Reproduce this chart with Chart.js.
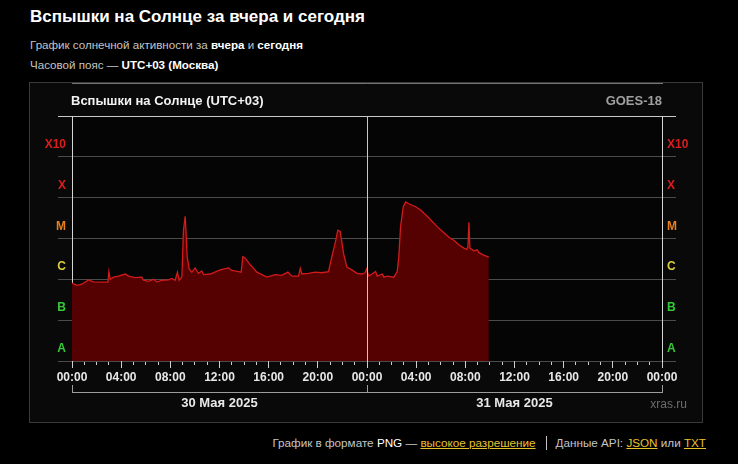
<!DOCTYPE html>
<html>
<head>
<meta charset="utf-8">
<script src="https://cdn.jsdelivr.net/npm/chart.js@4/dist/chart.umd.min.js"></script>
<style>
html,body{margin:0;padding:0;background:#000;width:738px;height:464px;overflow:hidden;font-family:"Liberation Sans",Arial,sans-serif;}
#h1{position:absolute;left:30px;top:7px;font-size:17px;font-weight:bold;color:#fff;white-space:nowrap;line-height:20px;}
.sub{position:absolute;left:30px;font-size:11.6px;color:#c4c4c4;white-space:nowrap;line-height:14px;}
.sub b{color:#fff;}
#panel{position:absolute;left:29px;top:82px;width:672px;height:339px;border:1px solid #3a3a3a;background:#090909;}
#chart{position:absolute;left:0;top:0;}
#ptitle{position:absolute;left:41px;top:10px;font-size:13px;font-weight:bold;color:#f2f2f2;line-height:15px;white-space:nowrap;}
#goes{position:absolute;right:40px;top:10px;font-size:13px;font-weight:bold;color:#a0a0a0;line-height:15px;white-space:nowrap;}
#xras{position:absolute;right:15px;top:314px;font-size:12px;color:#6c6c6c;line-height:14px;white-space:nowrap;}
#footer{position:absolute;right:32px;top:436px;font-size:11.7px;color:#c4c4c4;line-height:14px;white-space:nowrap;}
#footer a{color:#e8c12c;text-decoration:underline;}
#footer .w{color:#fff;}
#footer .sep{display:inline-block;width:1px;height:14px;background:#c4c4c4;vertical-align:-3px;margin:0 9px 0 10px;}
</style>
</head>
<body>
<div id="h1">Вспышки на Солнце за вчера и сегодня</div>
<div class="sub" style="top:38px">График солнечной активности за <b>вчера</b> и <b>сегодня</b></div>
<div class="sub" style="top:58px">Часовой пояс — <b>UTC+03 (Москва)</b></div>
<div id="panel">
  <canvas id="chart" width="672" height="339"></canvas>
  <div id="ptitle">Вспышки на Солнце (UTC+03)</div>
  <div id="goes">GOES-18</div>
  <div id="xras">xras.ru</div>
</div>
<div id="footer">График в формате <span class="w">PNG</span> — <a>высокое разрешение</a><span class="sep"></span>Данные API: <a>JSON</a> или <a>TXT</a></div>
<script>
// ---- data (hours since 30 May 2025 00:00 UTC+03, X-ray flux W/m²) ----
const hours = [0.00,0.39,0.80,1.34,1.75,2.70,2.92,3.00,3.11,3.38,3.78,4.33,4.60,5.14,5.68,5.82,6.22,6.63,6.90,7.31,7.85,8.12,8.39,8.58,8.72,8.94,9.07,9.21,9.37,9.53,9.75,10.02,10.16,10.29,10.56,10.70,11.24,12.06,12.73,13.00,13.55,13.76,13.90,14.09,14.50,15.04,15.45,15.85,16.53,17.07,17.56,17.89,18.43,18.57,18.70,19.24,19.79,20.33,20.87,21.14,21.41,21.63,21.82,22.09,22.36,22.77,23.18,23.58,23.85,23.96,24.15,24.70,24.83,25.24,25.37,25.64,26.18,26.46,26.59,26.73,26.95,27.14,27.41,27.95,28.36,28.90,29.71,30.53,30.80,31.07,31.47,31.88,32.10,32.21,32.29,32.37,32.69,32.97,33.10,33.50,33.91];
const flux = [8.1e-7,7.1e-7,7.6e-7,9.7e-7,8.7e-7,8.5e-7,8.5e-7,1.55e-6,1.0e-6,1.13e-6,1.2e-6,1.35e-6,1.2e-6,1.1e-6,1.13e-6,9.5e-7,8.9e-7,1.0e-6,8.7e-7,9.4e-7,9.7e-7,1.05e-6,9.5e-7,1.5e-6,9.5e-7,1.15e-6,1.6e-5,3.5e-5,3.6e-6,1.8e-6,1.5e-6,1.9e-6,1.6e-6,1.4e-6,1.6e-6,1.3e-6,1.35e-6,1.7e-6,1.9e-6,1.65e-6,1.55e-6,1.5e-6,3.6e-6,3.3e-6,2.3e-6,1.5e-6,1.3e-6,1.13e-6,1.3e-6,1.25e-6,1.5e-6,1.2e-6,1.2e-6,1.85e-6,1.35e-6,1.4e-6,1.5e-6,1.45e-6,1.55e-6,3.6e-6,7.7e-6,1.6e-5,1.5e-5,4.3e-6,2.0e-6,1.7e-6,1.4e-6,1.35e-6,1.45e-6,1.8e-6,1.2e-6,1.55e-6,1.2e-6,1.35e-6,1.13e-6,1.2e-6,1.13e-6,1.55e-6,3.6e-6,1.95e-5,6.0e-5,7.9e-5,7.1e-5,6.0e-5,5.0e-5,3.5e-5,1.95e-5,1.17e-5,1.0e-5,9.1e-6,7.0e-6,5.8e-6,5.4e-6,6.2e-6,2.5e-5,5.8e-6,5.0e-6,5.3e-6,4.5e-6,3.9e-6,3.5e-6];
const classLabels = ['A','B','C','M','X','X10'];
const classColors = ['#36c936','#36c936','#d9cf3e','#e5811f','#dc1d1d','#dc1d1d'];
const hourTickLabels = ['00:00','04:00','08:00','12:00','16:00','20:00','00:00','04:00','08:00','12:00','16:00','20:00','00:00'];
const dayLabels = ['30 Мая 2025','31 Мая 2025'];
const dayCenters = [12,36];
const dayBounds = [0,24,48];

const FONT = '"Liberation Sans", Arial, sans-serif';
Chart.defaults.font.family = FONT;

// decade grid lines (even index) and class label anchors (odd index)
const bandTicks = [];
for (let d = -8; d <= -2; d++) {
  bandTicks.push(Math.pow(10, d));
  if (d < -2) bandTicks.push(Math.pow(10, d + 0.3));
}
const hourly = [];
for (let i = 0; i <= 48; i++) hourly.push(i);
const fourHourly = hourly.filter(v => v % 4 === 0);

function yGridColor(c){ if (c.index % 2) return 'transparent'; return c.index === 12 ? '#c8c8c8' : '#4b4b4b'; }
function yLabelColor(c){ return c.index % 2 ? classColors[(c.index - 1) / 2] : 'transparent'; }
function yLabel(v, i){ return i % 2 ? classLabels[(i - 1) / 2] : ''; }

const yBase = (pos, w, pad, onArea) => ({
  type: 'logarithmic', position: pos, min: 1e-8, max: 1e-2,
  afterBuildTicks: s => { s.ticks = bandTicks.map(v => ({value: v})); },
  afterFit: s => { s.width = w; },
  ticks: { autoSkip: false, padding: pad, color: yLabelColor, callback: yLabel, font: {size: 12, weight: 'bold'} },
  grid: { drawOnChartArea: onArea, color: yGridColor, tickColor: yGridColor, tickLength: 14, lineWidth: 1 },
  border: { color: '#d6d6d6', width: 1 }
});

const areaBg = {
  id: 'areaBg',
  beforeDraw(chart){
    const {ctx, chartArea: a} = chart;
    ctx.save(); ctx.fillStyle = '#050505'; ctx.fillRect(a.left, a.top, a.right - a.left, a.bottom - a.top); ctx.restore();
  }
};

new Chart(document.getElementById('chart'), {
  type: 'line',
  data: {
    datasets: [{
      data: hours.map((h, i) => ({x: h, y: flux[i]})),
      borderColor: '#d21b1b',
      borderWidth: 1.3,
      backgroundColor: '#560101',
      fill: 'start',
      pointRadius: 0,
      tension: 0
    }]
  },
  options: {
    responsive: false,
    animation: false,
    devicePixelRatio: 1,
    layout: { padding: { top: 33, left: 0, right: 0, bottom: 0 } },
    plugins: { legend: {display: false}, tooltip: {enabled: false}, title: {display: false} },
    scales: {
      y: yBase('left', 42, -8, true),
      y2: yBase('right', 40, -9, false),
      x: {
        type: 'linear', position: 'bottom', weight: 0, min: 0, max: 48,
        afterBuildTicks: s => { s.ticks = hourly.map(v => ({value: v})); },
        afterFit: s => { s.height = 31; },
        ticks: { autoSkip: false, maxRotation: 0, minRotation: 0, padding: 5, color: '#e8e8e8', font: {size: 12, weight: 'bold'},
          callback: v => (v % 4 === 0 ? hourTickLabels[v / 4] : '') },
        grid: { z: 1, drawOnChartArea: true, color: c => (c.tick && c.tick.value === 24 ? '#c8c8c8' : 'transparent'), tickColor: '#cfcfcf', tickLength: 4 },
        border: { color: '#e2e2e2', width: 1 }
      },
      xMaj: {
        type: 'linear', position: {y: 1e-8}, min: 0, max: 48,
        afterBuildTicks: s => { s.ticks = fourHourly.map(v => ({value: v})); },
        ticks: { display: false },
        grid: { drawOnChartArea: false, tickLength: 7, color: '#cfcfcf', tickColor: '#cfcfcf' },
        border: { display: false }
      },
      xDate: {
        type: 'linear', position: 'bottom', weight: 1, min: 0, max: 48,
        afterBuildTicks: s => { s.ticks = dayBounds.concat(dayCenters).sort((a, b) => a - b).map(v => ({value: v})); },
        afterFit: s => { s.height = 30; },
        ticks: { autoSkip: false, maxRotation: 0, minRotation: 0, padding: 11, color: '#e8e8e8', font: {size: 13, weight: 'bold'},
          callback: v => { const k = dayCenters.indexOf(v); return k >= 0 ? dayLabels[k] : ''; } },
        grid: { drawOnChartArea: false, tickLength: -7, color: c => (c.tick && dayBounds.includes(c.tick.value) ? '#9c9c9c' : 'transparent') },
        border: { color: '#9c9c9c', width: 1 }
      }
    }
  },
  plugins: [areaBg]
});
</script>
</body>
</html>
